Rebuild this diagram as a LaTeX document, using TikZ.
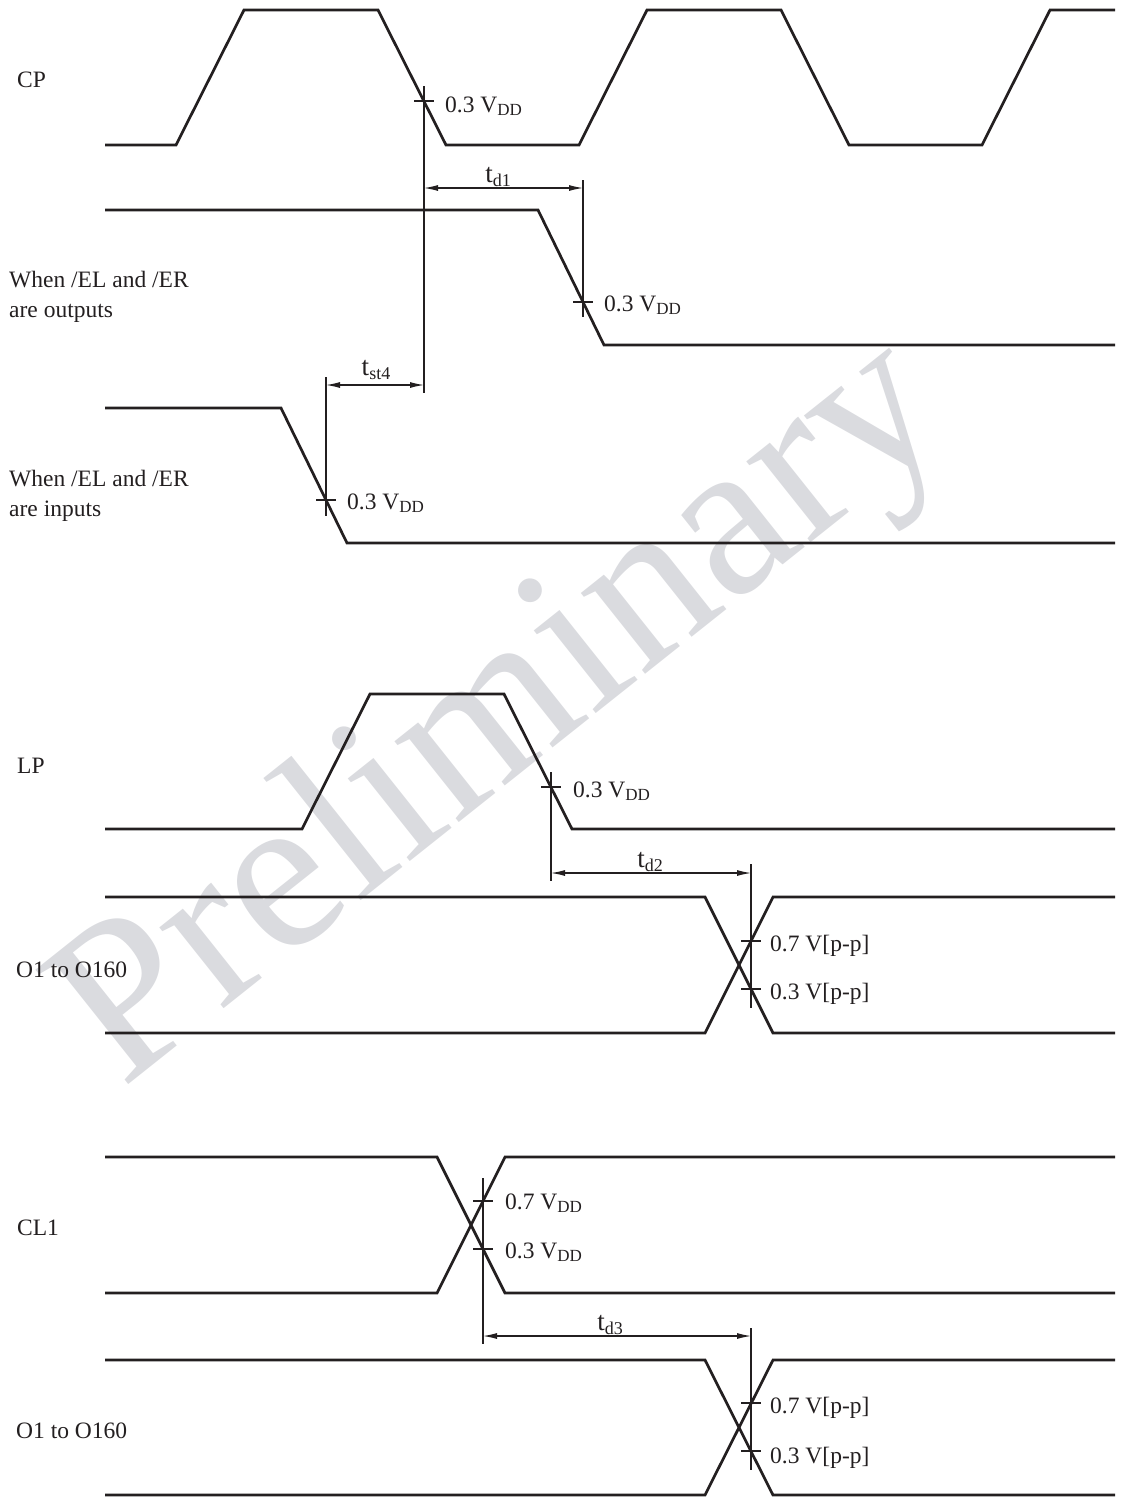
\documentclass[tikz,border=0pt]{standalone}
\usepackage{fontspec}
\setmainfont{Liberation Serif}
\usetikzlibrary{arrows.meta}
\definecolor{ink}{HTML}{231F20}
\definecolor{wm}{RGB}{218,219,223}
\newcommand{\vsub}[1]{\raisebox{-3.5pt}{\fontsize{17}{18}\selectfont #1}}
\newcommand{\tsub}[1]{\raisebox{-4pt}{\fontsize{18}{19}\selectfont #1}}
\tikzset{
  wave/.style={draw=ink, line width=2.7pt, line join=miter},
  dim/.style={draw=ink, line width=1.1pt},
  dimarrow/.style={dim, {Latex[length=14pt,width=6pt]}-{Latex[length=14pt,width=6pt]}},
  sig/.style={anchor=base west, inner sep=0pt, text=ink, font=\fontsize{23.5}{28}\selectfont},
  lvl/.style={anchor=base west, inner sep=0pt, text=ink, font=\fontsize{23.5}{28}\selectfont},
  tlab/.style={anchor=base, inner sep=0pt, text=ink, font=\fontsize{27}{30}\selectfont},
  wmark/.style={inner sep=0pt, text=wm, font=\fontsize{225}{225}\selectfont}
}
\begin{document}
\begin{tikzpicture}[x=1pt,y=-1pt]
\useasboundingbox (0,0) rectangle (1122,1497);
% watermark
\node[wmark, rotate=38.5] (wmk) at (505,717) {Preliminary};

% signal names
\node[sig] (nCP) at (17,87) {CP};
\node[sig] (nOutA) at (9,287) {When /EL and /ER};
\node[sig] (nOutB) at (9,317) {are outputs};
\node[sig] (nInA) at (9,486) {When /EL and /ER};
\node[sig] (nInB) at (9,516) {are inputs};
\node[sig] (nLP) at (17,773) {LP};
\node[sig] (nOa) at (16,977) {O1 to O160};
\node[sig] (nCL) at (17,1235) {CL1};
\node[sig] (nOb) at (16,1438) {O1 to O160};

% waveforms
\draw[wave] (105,145) -- (176,145) -- (244,10) -- (378,10) -- (446,145) -- (579,145)
  -- (647,10) -- (781,10) -- (849,145) -- (982,145) -- (1050,10) -- (1115,10);
\draw[wave] (105,210) -- (538,210) -- (604,345) -- (1115,345);
\draw[wave] (105,408) -- (281,408) -- (347,543) -- (1115,543);
\draw[wave] (105,829) -- (302,829) -- (370,694) -- (504,694) -- (572,829) -- (1115,829);
\draw[wave] (105,897) -- (705,897) -- (773,1033) -- (1115,1033);
\draw[wave] (105,1033) -- (705,1033) -- (773,897) -- (1115,897);
\draw[wave] (105,1157) -- (437,1157) -- (505,1293) -- (1115,1293);
\draw[wave] (105,1293) -- (437,1293) -- (505,1157) -- (1115,1157);
\draw[wave] (105,1360) -- (705,1360) -- (773,1495) -- (1115,1495);
\draw[wave] (105,1495) -- (705,1495) -- (773,1360) -- (1115,1360);

% reference points
\coordinate (kCP) at (424,101);
\coordinate (kOut) at (583,302);
\coordinate (kIn) at (326,500);
\coordinate (kLP) at (551,787);
\coordinate (kO7) at (751,941);
\coordinate (kO3) at (751,989);
\coordinate (kC7) at (483,1201);
\coordinate (kC3) at (483,1249);
\coordinate (kP7) at (751,1403);
\coordinate (kP3) at (751,1451);

% vertical reference lines
\coordinate (vA1) at (424,86);   \coordinate (vA2) at (424,393);
\coordinate (vB1) at (583,180);  \coordinate (vB2) at (583,317);
\coordinate (vC1) at (326,377);  \coordinate (vC2) at (326,516);
\coordinate (vD1) at (551,772);  \coordinate (vD2) at (551,881);
\coordinate (vE1) at (751,864);  \coordinate (vE2) at (751,1008);
\coordinate (vF1) at (483,1178); \coordinate (vF2) at (483,1344);
\coordinate (vG1) at (751,1328); \coordinate (vG2) at (751,1470);
\foreach \a in {A,B,C,D,E,F,G} \draw[dim] (v\a1) -- (v\a2);

% ticks
\foreach \k in {kCP,kOut,kIn,kLP,kO7,kO3,kC7,kC3,kP7,kP3}
  \draw[dim] (\k) ++(-10,0) -- ++(20,0);

% level labels
\node[lvl] (lCP) at (445,112) {0.3 V\vsub{DD}};
\node[lvl] (lOut) at (604,311) {0.3 V\vsub{DD}};
\node[lvl] (lIn) at (347,509) {0.3 V\vsub{DD}};
\node[lvl] (lLP) at (573,797) {0.3 V\vsub{DD}};
\node[lvl] (lO7) at (770,951) {0.7 V[p-p]};
\node[lvl] (lO3) at (770,999) {0.3 V[p-p]};
\node[lvl] (lC7) at (505,1209) {0.7 V\vsub{DD}};
\node[lvl] (lC3) at (505,1258) {0.3 V\vsub{DD}};
\node[lvl] (lP7) at (770,1413) {0.7 V[p-p]};
\node[lvl] (lP3) at (770,1463) {0.3 V[p-p]};

% timing arrows
\coordinate (d1a) at (424,188); \coordinate (d1b) at (583,188);
\coordinate (s4a) at (326,385); \coordinate (s4b) at (424,385);
\coordinate (d2a) at (551,873); \coordinate (d2b) at (751,873);
\coordinate (d3a) at (483,1336); \coordinate (d3b) at (751,1336);
\draw[dimarrow] (d1a) -- (d1b);
\draw[dimarrow] (s4a) -- (s4b);
\draw[dimarrow] (d2a) -- (d2b);
\draw[dimarrow] (d3a) -- (d3b);
\node[tlab] (td1) at (498,182) {t\tsub{d1}};
\node[tlab] (tst4) at (376,375) {t\tsub{st4}};
\node[tlab] (td2) at (650,867) {t\tsub{d2}};
\node[tlab] (td3) at (610,1330) {t\tsub{d3}};
\end{tikzpicture}
\end{document}
